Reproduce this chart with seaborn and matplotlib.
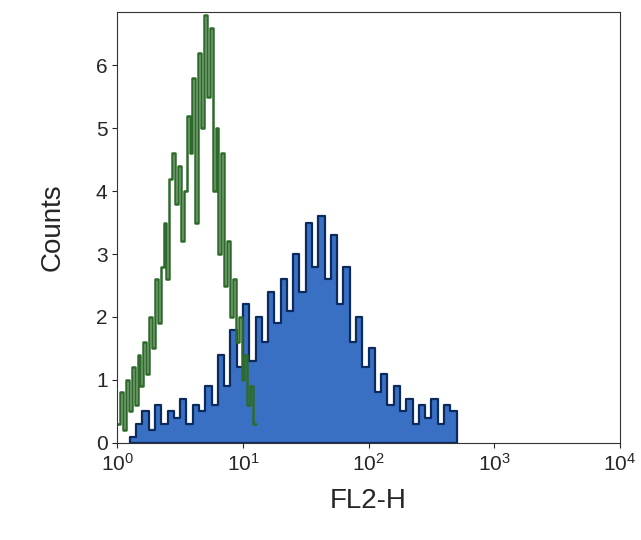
import matplotlib
matplotlib.use('Agg')
import matplotlib.pyplot as plt
import numpy as np
import pandas as pd
import seaborn as sns

# green (control) histogram, log10 bins of equal width starting at 10^0
green_counts = [0.3, 0.8, 0.2, 1.0, 0.5,
                1.2, 0.6, 1.4, 0.9, 1.6,
                1.1, 2.0, 1.5, 2.6, 1.9,
                2.8, 3.5, 2.6, 4.2, 4.6,
                3.8, 4.4, 3.2, 4.0, 5.2,
                4.6, 5.8, 3.5, 6.2, 5.0,
                6.8, 5.5, 6.6, 4.0, 5.0,
                3.0, 4.6, 2.5, 3.2, 2.0,
                2.6, 1.6, 2.0, 1.0, 1.4,
                0.6, 0.9, 0.3]
# blue (stained) histogram, log10 bins of width 0.05 starting at 10^0.1
blue_counts = [0.1, 0.3, 0.5, 0.2, 0.6, 0.3, 0.5, 0.4,
               0.7, 0.3, 0.6, 0.5, 0.9, 0.6,
               1.4, 0.9, 1.8, 1.2,
               2.2, 1.3, 2.0, 1.6, 2.4, 1.9,
               2.6, 2.1, 3.0, 2.4, 3.5, 2.8,
               3.6, 2.6, 3.3, 2.2, 2.8, 1.6,
               2.0, 1.2, 1.5, 0.8, 1.1, 0.6,
               0.9, 0.5, 0.7, 0.3, 0.6, 0.4, 0.7, 0.3, 0.6, 0.5]

gw, bw = 0.023, 0.05
g_lo = 0.0 + gw * np.arange(len(green_counts))
b_lo = 0.1 + bw * np.arange(len(blue_counts))
green = pd.DataFrame({'x': 10 ** (g_lo + gw / 2), 'w': green_counts})
blue = pd.DataFrame({'x': 10 ** (b_lo + bw / 2), 'w': blue_counts})

sns.set_style('ticks')
plt.rcParams['font.family'] = ['Liberation Sans', 'DejaVu Sans']
fig, ax = plt.subplots(figsize=(6.41, 5.4), dpi=100)
sns.histplot(data=blue, x='x', weights='w', log_scale=True, binwidth=bw,
             binrange=(0.1, 0.1 + bw * len(blue_counts)), element='step', fill=True,
             color='#3a70c4', edgecolor='#0b2a5e', linewidth=1.6, alpha=1, ax=ax)
sns.histplot(data=green, x='x', weights='w', log_scale=True, binwidth=gw,
             binrange=(0.0, gw * len(green_counts)), element='step', fill=False,
             color='#2e6b2a', linewidth=1.8, ax=ax)
ax.set_xlim(1, 1e4)
ax.set_ylim(0, 6.85)
ax.set_yticks(range(0, 7))
ax.minorticks_off()
ax.set_xlabel('FL2-H', fontsize=20, labelpad=10)
ax.set_ylabel('Counts', fontsize=20, labelpad=22)
ax.tick_params(labelsize=15)
for s in ax.spines.values():
    s.set_visible(True)
    s.set_color('#333333')
plt.subplots_adjust(left=0.183, right=0.967, top=0.978, bottom=0.18)
plt.savefig('out.png')
